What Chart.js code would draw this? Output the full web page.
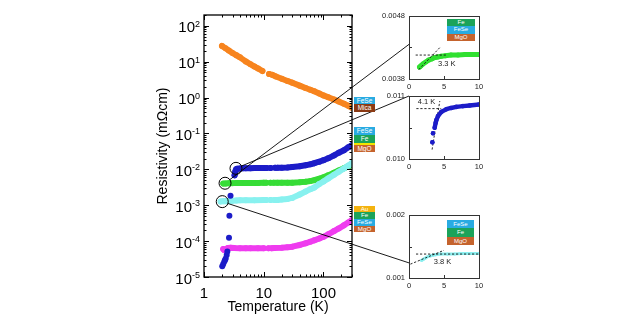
<!DOCTYPE html>
<html>
<head>
<meta charset="utf-8">
<script src="https://cdn.jsdelivr.net/npm/chart.js@4.4.0/dist/chart.umd.min.js"></script>
<style>
  html, body { margin: 0; padding: 0; background: #fff; }
  #fig { position: relative; width: 640px; height: 330px; overflow: hidden;
         font-family: "Liberation Sans", Arial, sans-serif; }
  #fig canvas { position: absolute; left: 0; top: 0; }
  .stack { position: absolute; }
  .stack div { color: #fff; text-align: center; overflow: hidden; white-space: nowrap; }
</style>
</head>
<body>
<div id="fig">
  <canvas id="main" width="640" height="330"></canvas>
  <canvas id="insTop" width="640" height="330"></canvas>
  <canvas id="insMid" width="640" height="330"></canvas>
  <canvas id="insBot" width="640" height="330"></canvas>
  <canvas id="links" width="640" height="330"></canvas>
</div>
<script>
// ---------- main panel: resistivity (mOhm cm) vs temperature (K) ----------
const xTicks = [1, 10, 100];
const yExponents = [-5, -4, -3, -2, -1, 0, 1, 2];

// FeSe / Mica
const orangeT = [2, 2.3, 2.6, 3, 3.5, 4, 5, 6, 7, 8, 9.5, 11.5, 12.3, 13, 13.8, 16, 20, 25, 30, 40, 50, 60, 70, 85, 100, 120, 150, 180, 220, 260, 300];
const orangeR = [27.5, 23.5, 20.5, 17.5, 15, 13.2, 10.2, 8.5, 7.3, 6.5, 5.5, null, 4.55, null, 4.3, 3.85, 3.35, 2.9, 2.6, 2.15, 1.85, 1.65, 1.5, 1.3, 1.15, 1.02, 0.88, 0.78, 0.67, 0.59, 0.52];

// FeSe / Fe / MgO (blue)
const blueT = [3.25, 3.35, 3.45, 3.6, 4, 4.5, 5, 6, 7, 8, 10, 11.2, 12, 13, 14, 15.5, 16.3, 17, 20, 25, 30, 40, 50, 60, 70, 85, 100, 120, 150, 180, 220, 260, 300];
const blueR = [0.0068, 0.0088, 0.0100, 0.0104, 0.0106, 0.0107, 0.0108, 0.0108, 0.0109, 0.0109, 0.0109, 0.0109, null, 0.0109, null, 0.011, null, 0.011, 0.0111, 0.0113, 0.0116, 0.0122, 0.013, 0.0138, 0.0148, 0.0163, 0.018, 0.0203, 0.0245, 0.029, 0.034, 0.041, 0.047];
const blueDropT = [2.02, 2.1, 2.19, 2.25, 2.31, 2.4, 2.46, 2.62, 2.66, 2.78];
const blueDropR = [2.0e-5, 2.3e-5, 2.7e-5, 3.0e-5, 3.3e-5, 4.1e-5, 5.1e-5, 1.24e-4, 5.1e-4, 1.84e-3];

// Fe / FeSe / MgO (green)
const greenT = [2.1, 2.3, 2.6, 3, 3.5, 4, 5, 6, 7, 8, 10, 11, 12, 13, 13.8, 14.5, 17, 20, 25, 30, 40, 50, 60, 70, 85, 100, 120, 150, 180, 220, 260, 300];
const greenR = [0.0040, 0.00405, 0.0041, 0.00413, 0.00415, 0.00417, 0.00418, 0.00418, 0.00419, 0.00419, 0.0042, 0.0042, null, 0.0042, null, 0.0042, 0.0042, 0.00421, 0.00423, 0.00426, 0.00435, 0.0045, 0.0047, 0.005, 0.0055, 0.006, 0.0068, 0.0081, 0.0093, 0.0108, 0.0122, 0.0135];

// FeSe / Fe / MgO (cyan)
const cyanT = [1.9, 2.1, 2.3, 2.6, 3, 3.5, 4, 5, 7, 10, 11, 12, 13, 14, 15, 17, 20, 25, 30, 40, 50, 60, 70, 85, 100, 120, 150, 180, 220, 260, 300];
const cyanR = [0.00128, 0.0013, 0.0013, 0.00132, 0.00134, 0.00136, 0.00137, 0.00138, 0.00138, 0.00139, 0.00139, null, 0.0014, null, 0.0014, 0.0014, 0.00145, 0.0015, 0.0016, 0.002, 0.0024, 0.0028, 0.0031, 0.0039, 0.0046, 0.0056, 0.0071, 0.0086, 0.0106, 0.0127, 0.015];

// Au / Fe / FeSe / MgO (magenta)
const magentaT = [2.1, 2.2, 2.35, 2.5, 2.8, 3.2, 4, 5, 6, 8, 10, 11, 12, 12.8, 13.5, 15, 20, 25, 30, 40, 50, 60, 70, 85, 100, 120, 150, 180, 220, 260, 300];
const magentaR = [6.0e-5, 5.6e-5, 5.9e-5, 6.4e-5, 6.5e-5, 6.4e-5, 6.3e-5, 6.3e-5, 6.3e-5, 6.3e-5, 6.3e-5, null, 6.3e-5, null, 6.3e-5, 6.4e-5, 6.5e-5, 6.7e-5, 7.0e-5, 7.8e-5, 8.7e-5, 9.6e-5, 1.05e-4, 1.18e-4, 1.32e-4, 1.55e-4, 1.9e-4, 2.25e-4, 2.75e-4, 3.3e-4, 3.85e-4];

// zoomed regions marked on the main panel
const circleT = [3.43, 2.25, 2.02];
const circleR = [0.01067, 0.0041, 0.00126];

// ---------- insets (0-10 K, linear) ----------
const insetXTicks = [0, 5, 10];

const greenInsetT = [1.5, 1.7, 2.0, 2.4, 2.8, 3.3, 3.7, 4.1, 4.6, 5.2, 6, 7, 8, 9, 10];
const greenInsetR = [0.00399, 0.00401, 0.00404, 0.00407, 0.0041, 0.00412, 0.00414, 0.00415, 0.00416, 0.00417, 0.00418, 0.00418, 0.00419, 0.00419, 0.00419];
const greenFlatT = [0.95, 5.3];
const greenFlatR = [0.00418, 0.00418];
const greenRiseT = [1.4, 4.5];
const greenRiseR = [0.00395, 0.00431];

const blueInsetT = [3.34, 3.38, 3.43, 3.55, 3.67, 3.8, 3.91, 4.14, 4.62, 5.34, 6.0, 6.77, 7.7, 8.67, 10];
const blueInsetR = [0.010267, null, 0.010409, null, 0.010497, 0.01057, 0.010618, 0.010681, 0.010748, 0.01079, 0.01081, 0.010827, 0.01084, 0.01085, 0.010865];
const blueFlatT = [1.05, 4.6];
const blueFlatR = [0.0108, 0.0108];
const blueRiseT = [3.3, 4.4];
const blueRiseR = [0.01015, 0.01092];

const cyanInsetT = [1.8, 2.1, 2.4, 2.7, 3.0, 3.4, 3.8, 4.5, 5.5, 6.5, 7.5, 8.5, 10];
const cyanInsetR = [0.00128, 0.0013, 0.00132, 0.00134, 0.00135, 0.00136, 0.00137, 0.00138, 0.00138, 0.00138, 0.00139, 0.00139, 0.00139];
const cyanFlatT = [1.0, 10];
const cyanFlatR = [0.00138, 0.00138];
const cyanRiseT = [0.2, 5];
const cyanRiseR = [0.00122, 0.00144];

// layer stacks
const stackMica = ['FeSe', 'Mica'];
const stackBlue = ['FeSe', 'Fe', '', 'MgO'];
const stackMagenta = ['Au', 'Fe', 'FeSe', 'MgO'];
const stackGreenInset = ['Fe', 'FeSe', 'MgO'];
const stackCyanInset = ['FeSe', 'Fe', 'MgO'];

// ---------- drawing ----------
const FONT = '"Liberation Sans", Arial, sans-serif';
Chart.defaults.font.family = FONT;
Chart.defaults.color = '#000';

const C = {
  orange: '#f7841e', blue: '#1c1cc8', green: '#36dc36', cyan: '#88f1ef', magenta: '#ef3cef',
  greenIn: '#30e030', blueIn: '#1c1cc8', cyanIn: '#8cf0f0'
};
const ringRadius = 6;

const pts = (T, R) => T.map((t, i) => ({ x: t, y: R[i] }));

function curve(T, R, color, width, radius) {
  return {
    data: pts(T, R), borderColor: color, backgroundColor: color, pointBackgroundColor: color,
    borderWidth: width, pointRadius: radius, pointHoverRadius: radius, pointBorderWidth: 0,
    borderCapStyle: 'round', borderJoinStyle: 'round', tension: 0, spanGaps: false, clip: 0, fill: false
  };
}
function dots(T, R, color, radius) {
  return {
    data: pts(T, R), showLine: false, pointBackgroundColor: color, backgroundColor: color,
    borderColor: color, pointRadius: radius, pointHoverRadius: radius, pointBorderWidth: 0, clip: 0
  };
}
function dashed(T, R) {
  return {
    data: pts(T, R), borderColor: '#111', borderWidth: 0.9, borderDash: [2.2, 1.8],
    pointRadius: 0, tension: 0, fill: false, clip: 0
  };
}

const mainAxes = {
  id: 'mainAxes',
  afterDraw(chart) {
    const { ctx, chartArea: a, scales: { x, y } } = chart;
    ctx.save();
    ctx.strokeStyle = '#000';
    ctx.lineWidth = 1;
    ctx.beginPath();
    for (let d = 0; d <= 2; d++) {
      for (let m = 1; m <= 9; m++) {
        const v = m * Math.pow(10, d);
        if (v > x.max + 1e-9) break;
        const px = Math.round(x.getPixelForValue(v)) + 0.5;
        const len = m === 1 ? 5 : 2.5;
        ctx.moveTo(px, a.bottom); ctx.lineTo(px, a.bottom - len);
        ctx.moveTo(px, a.top); ctx.lineTo(px, a.top + len);
      }
    }
    for (let e = yExponents[0]; e <= yExponents[yExponents.length - 1]; e++) {
      for (let m = 1; m <= 9; m++) {
        const v = m * Math.pow(10, e);
        if (v > y.max * 1.0001) break;
        const py = Math.round(y.getPixelForValue(v)) + 0.5;
        const len = m === 1 ? 5 : 2.5;
        ctx.moveTo(a.left, py); ctx.lineTo(a.left + len, py);
        ctx.moveTo(a.right, py); ctx.lineTo(a.right - len, py);
      }
    }
    ctx.stroke();
    ctx.lineWidth = 1.3;
    ctx.strokeRect(a.left, a.top, a.right - a.left, a.bottom - a.top);

    // decade labels 10^n
    ctx.fillStyle = '#000';
    ctx.textAlign = 'left';
    ctx.textBaseline = 'alphabetic';
    const xr = a.left - 4;
    for (const e of yExponents) {
      const py = y.getPixelForValue(Math.pow(10, e));
      const sup = e < 0 ? '-' + (-e) : String(e);
      ctx.font = '9px ' + FONT;
      const sw = ctx.measureText(sup).width;
      ctx.font = '15px ' + FONT;
      const bw = ctx.measureText('10').width;
      ctx.fillText('10', xr - sw - bw, py + 6.5);
      ctx.font = '9px ' + FONT;
      ctx.fillText(sup, xr - sw, py + 1);
    }
    ctx.restore();
  }
};

const mainChart = new Chart(document.getElementById('main'), {
  type: 'line',
  data: {
    datasets: [
      {
        data: pts(circleT, circleR), showLine: false, pointRadius: ringRadius, pointHoverRadius: ringRadius,
        pointBorderWidth: 1, pointBorderColor: '#000', pointBackgroundColor: 'rgba(0,0,0,0)',
        borderColor: '#000', backgroundColor: 'rgba(0,0,0,0)'
      },
      dots(blueDropT, blueDropR, C.blue, 3),
      curve(blueT, blueR, C.blue, 6, 3),
      curve(cyanT, cyanR, C.cyan, 6, 3),
      curve(greenT, greenR, C.green, 6, 3),
      curve(magentaT, magentaR, C.magenta, 6, 3),
      curve(orangeT, orangeR, C.orange, 6, 3)
    ]
  },
  options: {
    responsive: false, maintainAspectRatio: false, animation: false, events: [],
    layout: { padding: { left: 150, top: 15, right: 288, bottom: 0 } },
    plugins: { legend: { display: false }, tooltip: { enabled: false } },
    scales: {
      x: {
        type: 'logarithmic', min: 1, max: 300, position: 'bottom',
        grid: { display: false, drawTicks: false }, border: { display: false },
        afterBuildTicks: s => { s.ticks = xTicks.map(v => ({ value: v })); },
        afterFit: s => { s.height = 53; },
        ticks: { font: { size: 15 }, color: '#000', padding: 8, maxRotation: 0, autoSkip: false,
                 callback: v => String(v) },
        title: { display: true, text: 'Temperature (K)', font: { size: 14 }, color: '#000',
                 padding: { top: 0, bottom: 14 } }
      },
      y: {
        type: 'logarithmic', min: 1e-5, max: 200, position: 'left',
        grid: { display: false, drawTicks: false }, border: { display: false },
        afterBuildTicks: s => { s.ticks = yExponents.map(e => ({ value: Math.pow(10, e) })); },
        afterFit: s => { s.width = 54; },
        ticks: { display: false },
        title: { display: true, text: 'Resistivity (mΩcm)', font: { size: 14 }, color: '#000',
                 padding: { top: 5, bottom: 0 } }
      }
    }
  },
  plugins: [mainAxes]
});

const insetFrame = {
  id: 'insetFrame',
  afterDraw(chart, args, opts) {
    const { ctx, chartArea: a, scales: { x, y } } = chart;
    ctx.save();
    ctx.strokeStyle = '#333';
    ctx.lineWidth = 1;
    ctx.strokeRect(a.left + 0.5, a.top + 0.5, a.right - a.left, a.bottom - a.top);
    ctx.beginPath();
    const mx = Math.round(x.getPixelForValue(5)) + 0.5;
    ctx.moveTo(mx, a.bottom); ctx.lineTo(mx, a.bottom - 3);
    const my = Math.round(y.getPixelForValue((y.min + y.max) / 2)) + 0.5;
    ctx.moveTo(a.left, my); ctx.lineTo(a.left + 3, my);
    ctx.stroke();
    if (opts && opts.label) {
      ctx.font = '7.5px ' + FONT;
      ctx.fillStyle = '#222';
      ctx.textAlign = 'center';
      ctx.textBaseline = 'middle';
      ctx.fillText(opts.label.text, x.getPixelForValue(opts.label.T), y.getPixelForValue(opts.label.R));
    }
    ctx.restore();
  }
};

function makeInset(id, area, yRange, decimals, datasets, label) {
  return new Chart(document.getElementById(id), {
    type: 'line',
    data: { datasets },
    options: {
      responsive: false, maintainAspectRatio: false, animation: false, events: [],
      layout: { padding: { left: 370, top: area.top, right: 640 - area.right, bottom: 330 - area.bottom - 14 } },
      plugins: { legend: { display: false }, tooltip: { enabled: false }, insetFrame: { label } },
      scales: {
        x: {
          type: 'linear', min: 0, max: 10,
          grid: { display: false, drawTicks: false }, border: { display: false },
          afterBuildTicks: s => { s.ticks = insetXTicks.map(v => ({ value: v })); },
          afterFit: s => { s.height = 14; },
          ticks: { font: { size: 7.5 }, color: '#222', padding: 3, maxRotation: 0, autoSkip: false,
                   callback: v => String(v) }
        },
        y: {
          type: 'linear', min: yRange[0], max: yRange[1],
          grid: { display: false, drawTicks: false }, border: { display: false },
          afterBuildTicks: s => { s.ticks = yRange.map(v => ({ value: v })); },
          afterFit: s => { s.width = area.left - 370; },
          ticks: { font: { size: 7.5 }, color: '#222', padding: 4, autoSkip: false,
                   callback: v => Number(v).toFixed(decimals) }
        }
      }
    },
    plugins: [insetFrame]
  });
}

const insetTop = makeInset('insTop', { left: 409, right: 479, top: 16, bottom: 79 }, [0.0038, 0.0048], 4, [
  dashed(greenFlatT, greenFlatR),
  dashed(greenRiseT, greenRiseR),
  curve(greenInsetT, greenInsetR, C.greenIn, 5, 2.5)
], { text: '3.3 K', T: 5.4, R: 0.00404 });

const insetMid = makeInset('insMid', { left: 409, right: 479, top: 96, bottom: 159 }, [0.010, 0.011], 3, [
  curve(blueInsetT, blueInsetR, C.blueIn, 4.4, 2.3),
  dashed(blueFlatT, blueFlatR),
  dashed(blueRiseT, blueRiseR)
], { text: '4.1 K', T: 2.5, R: 0.0109 });

const insetBot = makeInset('insBot', { left: 409, right: 479, top: 215, bottom: 278 }, [0.001, 0.002], 3, [
  dashed(cyanFlatT, cyanFlatR),
  dashed(cyanRiseT, cyanRiseR),
  curve(cyanInsetT, cyanInsetR, C.cyanIn, 3, 1.5)
], { text: '3.8 K', T: 4.8, R: 0.00126 });

// leader lines from the marked regions to their insets
const leaders = [
  { ring: 0, inset: insetMid, T: 0, R: 0.011 },
  { ring: 1, inset: insetTop, T: 0, R: 0.00435 },
  { ring: 2, inset: insetBot, T: 0, R: 0.00124 }
];
const lc = document.getElementById('links').getContext('2d');
lc.strokeStyle = '#000';
lc.lineWidth = 0.9;
for (const l of leaders) {
  const cx = mainChart.scales.x.getPixelForValue(circleT[l.ring]);
  const cy = mainChart.scales.y.getPixelForValue(circleR[l.ring]);
  const tx = l.inset.scales.x.getPixelForValue(l.T);
  const ty = l.inset.scales.y.getPixelForValue(l.R);
  const d = Math.hypot(tx - cx, ty - cy);
  lc.beginPath();
  lc.moveTo(cx + (tx - cx) / d * ringRadius, cy + (ty - cy) / d * ringRadius);
  lc.lineTo(tx, ty);
  lc.stroke();
}

// sample layer stacks
const layerColors = { FeSe: '#29abe2', Fe: '#1ba35a', MgO: '#c5632d', Mica: '#8b3a14', Au: '#f4b30f', '': '#f2e400' };
const stackBoxes = [
  { layers: stackMica, left: 354, top: 97, width: 21, rows: [7, 8], font: 6.5 },
  { layers: stackBlue, left: 354, top: 127, width: 21, rows: [8, 8, 2, 7], font: 6.5 },
  { layers: stackMagenta, left: 354, top: 205.5, width: 21, rows: [6.7, 6.7, 6.7, 6.7], font: 6.2 },
  { layers: stackGreenInset, left: 447, top: 19, width: 28, rows: [7.3, 7.3, 7.3], font: 6 },
  { layers: stackCyanInset, left: 447, top: 219.5, width: 27, rows: [8.5, 8.5, 8.5], font: 6 }
];
const fig = document.getElementById('fig');
for (const s of stackBoxes) {
  const box = document.createElement('div');
  box.className = 'stack';
  box.style.left = s.left + 'px';
  box.style.top = s.top + 'px';
  box.style.width = s.width + 'px';
  s.layers.forEach((name, i) => {
    const row = document.createElement('div');
    row.textContent = name;
    row.style.background = layerColors[name];
    row.style.height = s.rows[i] + 'px';
    row.style.lineHeight = s.rows[i] + 'px';
    row.style.fontSize = s.font + 'px';
    box.appendChild(row);
  });
  fig.appendChild(box);
}
</script>
</body>
</html>
